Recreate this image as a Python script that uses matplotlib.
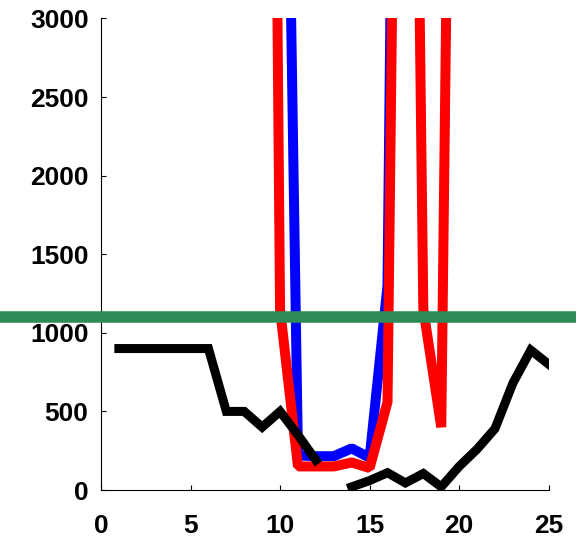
import numpy as np
import matplotlib.pyplot as plt

plt.rcParams['font.family'] = ['Liberation Sans', 'DejaVu Sans']
plt.rcParams['font.size'] = 19
plt.rcParams['font.weight'] = 'bold'

# データ（画像から目視で読み取り）
x_black = np.arange(1, 26)
black_vals = [900, 900, 900, 900, 900, 900, 500, 500, 400, 500, 350, 190,
              np.nan, 20, 60, 110, 45, 105, 20, 150, 260, 390, 680, 890, 800]

x_blue = np.arange(10, 18)
blue_vals = [7500, 220, 215, 215, 265, 205, 1300, 12000]

x_red = np.arange(9, 21)
red_vals = [14000, 1150, 150, 150, 150, 175, 140, 560, 10400, 1150, 400, 10000]

threshold = 1100

xticks = [0, 5, 10, 15, 20, 25]
yticks = [0, 500, 1000, 1500, 2000, 2500, 3000]

fig = plt.figure(figsize=(5.76, 5.39), dpi=100)
ax = fig.add_axes([0.1753, 0.0909, 0.7773, 0.8748])

ax.plot(x_blue, blue_vals, color='#0000ff', linewidth=7.2, solid_joinstyle='bevel')
ax.plot(x_red, red_vals, color='#ff0000', linewidth=7.2, solid_joinstyle='bevel')
ax.plot(x_black, black_vals, color='black', linewidth=6.5, solid_joinstyle='miter')

# 緑の水平線（図の横幅いっぱい）
ax.axhline(threshold, xmin=-0.3, xmax=1.2, color='#2e8b57', linewidth=8.3,
           clip_on=False, zorder=5)

ax.set_xlim(0, 25)
ax.set_ylim(0, 3000)
ax.set_xticks(xticks)
ax.set_yticks(yticks)

ax.spines['top'].set_visible(False)
ax.spines['right'].set_visible(False)
for s in ['left', 'bottom']:
    ax.spines[s].set_linewidth(0.8)

ax.tick_params(axis='both', direction='in', length=3.6, width=0.8)
ax.tick_params(axis='x', pad=17)
ax.tick_params(axis='y', pad=9)

fig.savefig('out.png', dpi=100)
